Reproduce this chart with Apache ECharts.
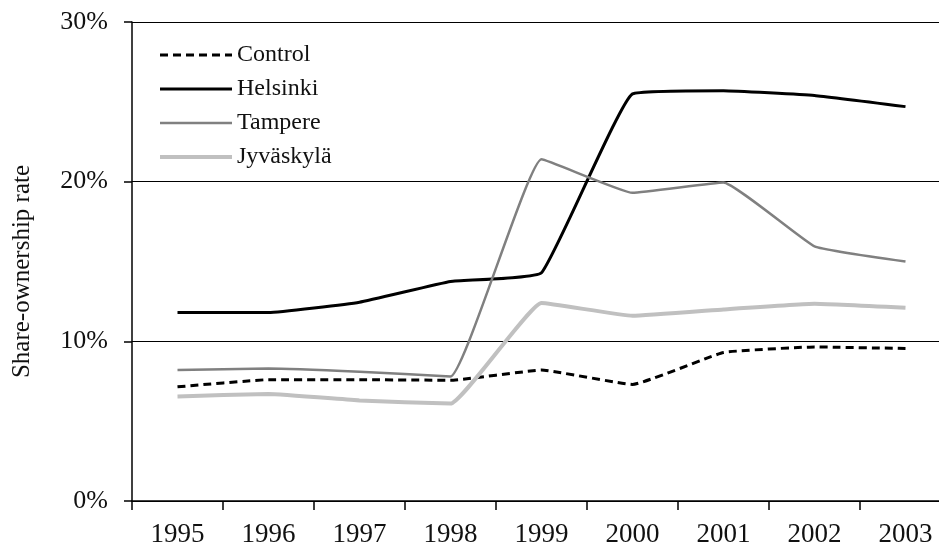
<!DOCTYPE html>
<html lang="en">
<head>
    <meta charset="UTF-8">
    <title>Share-ownership rate</title>
    <script src="https://cdn.jsdelivr.net/npm/echarts@6.0.0/dist/echarts.min.js"></script>
    <style>
        body { margin: 0; background: #fff; }
        #chart { width: 939px; height: 544px; }
    </style>
</head>
<body>
    <div id="chart"></div>
    <script type="text/javascript">
    // data (percent)
    var years = ['1995', '1996', '1997', '1998', '1999', '2000', '2001', '2002', '2003'];
    var control = [7.15, 7.6, 7.6, 7.56, 8.2, 7.3, 9.3, 9.65, 9.55];
    var helsinki = [11.8, 11.8, 12.45, 13.75, 14.3, 25.5, 25.7, 25.4, 24.7];
    var tampere = [8.2, 8.3, 8.1, 7.8, 21.4, 19.3, 19.95, 15.95, 15.0];
    var jyvaskyla = [6.55, 6.7, 6.3, 6.1, 12.4, 11.6, 12.0, 12.35, 12.1];
    var yTicks = [0, 10, 20, 30];

    var font = '"Liberation Serif", "DejaVu Serif", serif';

    var chart = echarts.init(document.getElementById('chart'));

    // line styles per series
    var styles = {
        'Control': { color: '#000', width: 3, type: [8, 5] },
        'Helsinki': { color: '#000', width: 3, type: 'solid' },
        'Tampere': { color: '#808080', width: 2.5, type: 'solid' },
        'Jyväskylä': { color: '#c0c0c0', width: 4, type: 'solid' }
    };

    function line(name, data) {
        return {
            name: name,
            type: 'line',
            data: data,
            symbol: 'none',
            smooth: 0.1,
            lineStyle: styles[name],
            itemStyle: { color: styles[name].color }
        };
    }

    var option = {
        animation: false,
        backgroundColor: '#fff',
        grid: { left: 132, right: -12, top: 22, bottom: 43, containLabel: false, outerBoundsMode: 'none' },
        legend: {
            orient: 'vertical',
            left: 158,
            top: 43,
            padding: 0,
            itemWidth: 72,
            itemHeight: 14,
            itemGap: 10,
            itemStyle: { opacity: 0 },
            textStyle: { fontFamily: font, fontSize: 24, color: '#111' },
            data: Object.keys(styles).map(function (name) {
                return { name: name, lineStyle: styles[name] };
            })
        },
        xAxis: {
            type: 'category',
            data: years,
            boundaryGap: true,
            axisLine: { lineStyle: { color: '#000', width: 1.5 } },
            axisTick: { show: true, length: 9, alignWithLabel: false, lineStyle: { color: '#000', width: 1.5 } },
            axisLabel: { fontFamily: font, fontSize: 27, color: '#111', margin: 20 }
        },
        yAxis: {
            type: 'value',
            min: yTicks[0],
            max: yTicks[yTicks.length - 1],
            interval: 10,
            name: 'Share-ownership rate',
            nameLocation: 'middle',
            nameGap: 97,
            nameTextStyle: { fontFamily: font, fontSize: 25, color: '#111', padding: [0, 20, 0, 0] },
            axisLine: { show: true, lineStyle: { color: '#000', width: 1.5 } },
            axisTick: { show: true, length: 8, lineStyle: { color: '#000', width: 1.5 } },
            axisLabel: { fontFamily: font, fontSize: 26, color: '#111', margin: 24, formatter: '{value}%' },
            splitLine: { lineStyle: { color: '#000', width: 1 } }
        },
        series: [
            line('Control', control),
            line('Helsinki', helsinki),
            line('Tampere', tampere),
            line('Jyväskylä', jyvaskyla)
        ]
    };
    chart.setOption(option);
    </script>
</body>
</html>
